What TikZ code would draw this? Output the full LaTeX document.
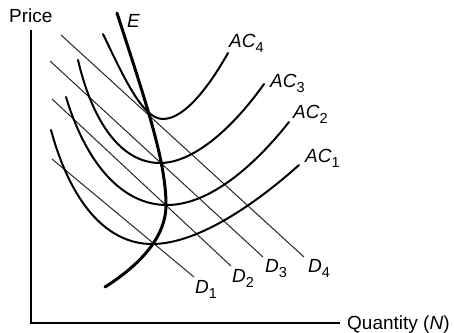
\documentclass[tikz,border=0pt]{standalone}
\usepackage{fontspec}
\setmainfont{Liberation Sans}
\newcommand\lsub[1]{\raisebox{-5pt}{\fontsize{14.5}{15}\selectfont\upshape #1}}
\begin{document}
\begin{tikzpicture}[x=1pt,y=-1pt,
  axisline/.style={line width=1.8pt,line cap=butt},
  demand/.style={line width=1pt,black!85},
  costcurve/.style={line width=2pt,line cap=round},
  envelope/.style={line width=3pt,line cap=round},
  lbl/.style={anchor=base west,inner sep=0pt,font=\fontsize{19}{21}\selectfont},
  ilbl/.style={lbl,font=\fontsize{19}{21}\selectfont\itshape}]
\useasboundingbox (0,0) rectangle (454,332);
% axes
\coordinate (ytop) at (31,30);
\coordinate (orig) at (31,323);
\coordinate (xend) at (340,323);
\draw[axisline] (ytop) -- (orig) -- (xend);
\node[lbl] (price) at (9,22.5) {Price};
\node[lbl] (qty) at (347,329) {Quantity (\textit{N})};
% demand lines
\coordinate (d4a) at (61,35);  \coordinate (d4b) at (304,257);
\coordinate (d3a) at (50,61);  \coordinate (d3b) at (263,257);
\coordinate (d2a) at (52,99);  \coordinate (d2b) at (231,266);
\coordinate (d1a) at (52,159); \coordinate (d1b) at (194,277);
\draw[demand] (d4a) -- (d4b);
\draw[demand] (d3a) -- (d3b);
\draw[demand] (d2a) -- (d2b);
\draw[demand] (d1a) -- (d1b);
\node[ilbl] (D4) at (308,272) {D\lsub{4}};
\node[ilbl] (D3) at (265,272) {D\lsub{3}};
\node[ilbl] (D2) at (232,282) {D\lsub{2}};
\node[ilbl] (D1) at (195,293) {D\lsub{1}};
% average cost curves
\coordinate (a4s) at (103,34);  \coordinate (a4m) at (163,119); \coordinate (a4e) at (228,53);
\coordinate (a3s) at (78,60);   \coordinate (a3m) at (160,163); \coordinate (a3e) at (264,84);
\coordinate (a2s) at (66,97);   \coordinate (a2m) at (167,205); \coordinate (a2e) at (289,122);
\coordinate (a1s) at (51,130);  \coordinate (a1m) at (152,244); \coordinate (a1e) at (299,165);
\draw[costcurve] (a4s) .. controls (125,80) and (143,119) .. (a4m)
  .. controls (185,119) and (210,85) .. (a4e);
\draw[costcurve] (a3s) .. controls (92,120) and (120,163) .. (a3m)
  .. controls (195,163) and (235,125) .. (a3e);
\draw[costcurve] (a2s) .. controls (85,160) and (120,205) .. (a2m)
  .. controls (210,205) and (255,165) .. (a2e);
\draw[costcurve] (a1s) .. controls (70,200) and (105,244) .. (a1m)
  .. controls (200,244) and (260,200) .. (a1e);
\node[ilbl] (AC4) at (229,47) {AC\lsub{4}};
\node[ilbl] (AC3) at (270,87) {AC\lsub{3}};
\node[ilbl] (AC2) at (293,118) {AC\lsub{2}};
\node[ilbl] (AC1) at (305,162) {AC\lsub{1}};
% envelope
\coordinate (es) at (117,13); \coordinate (em) at (166,205); \coordinate (ee) at (105,287);
\draw[envelope] (es) .. controls (145,100) and (166,160) .. (em)
  .. controls (166,240) and (135,268) .. (ee);
\node[ilbl] (E) at (127,27) {E};
\end{tikzpicture}
\end{document}
